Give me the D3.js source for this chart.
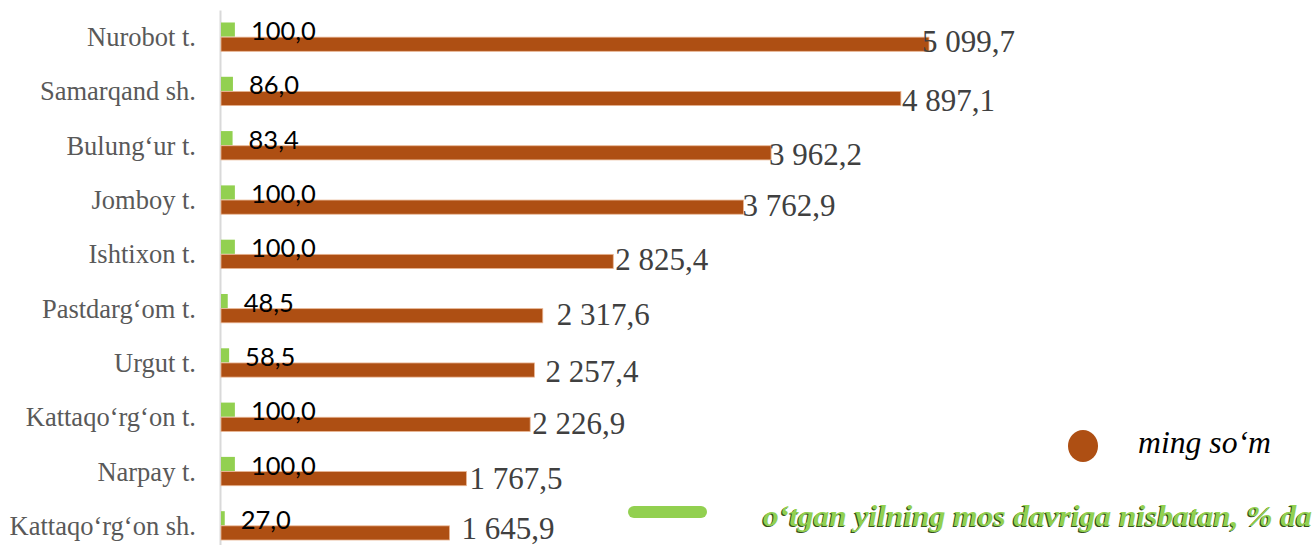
<!DOCTYPE html>
<html>
<head>
<meta charset="utf-8">
<script src="https://cdn.jsdelivr.net/npm/d3@7"></script>
<style>
  html, body { margin: 0; padding: 0; background: #fff; }
  svg { display: block; }
</style>
</head>
<body>
<svg id="chart" width="1315" height="545"></svg>
<script>
// ---- data ----
const categories = ["Nurobot t.", "Samarqand sh.", "Bulung‘ur t.", "Jomboy t.", "Ishtixon t.",
  "Pastdarg‘om t.", "Urgut t.", "Kattaqo‘rg‘on t.", "Narpay t.", "Kattaqo‘rg‘on sh."];
const valuesMingSom = [5099.7, 4897.1, 3962.2, 3762.9, 2825.4, 2317.6, 2257.4, 2226.9, 1767.5, 1645.9];
const valuesPercent = [100.0, 86.0, 83.4, 100.0, 100.0, 48.5, 58.5, 100.0, 100.0, 27.0];
const seriesNames = ["ming so‘m", "o‘tgan yilning mos davriga nisbatan, % da"];

// manual label nudges (Excel labels were dragged by hand) [dx, dy]
const valueLabelNudge = [[-6, 8], [2, 12], [-1, 12], [0, 9], [3, 8.5], [15, 9.5], [12, 12], [3, 9], [4, 10], [13, 6]];

// ---- layout ----
const brown = "#ae4f13", green = "#92d050";
const svg = d3.select("#chart");
const fmt = v => {
  const s = v.toFixed(1).replace(".", ",");
  const [ip, dp] = s.split(",");
  return ip.replace(/\B(?=(\d{3})+(?!\d))/g, " ") + "," + dp;
};

const x = d3.scaleLinear().domain([0, 6000]).range([220, 1053]);
const y = d3.scaleBand().domain(categories).range([10, 553]).paddingInner(0.46).paddingOuter(0.23);
const sub = d3.scaleBand().domain(["pct", "val"]).range([0, y.bandwidth()]);

// category axis
const axis = d3.axisLeft(y).tickSize(0).tickSizeOuter(0).tickPadding(24);
const gAxis = svg.append("g").attr("transform", `translate(${x(0)},0)`).call(axis);
gAxis.select(".domain").attr("stroke", "#d9d9d9").attr("stroke-width", 2);
gAxis.selectAll(".tick text")
  .attr("font-family", "'Liberation Serif', 'Times New Roman', serif")
  .attr("font-size", 26.5)
  .attr("fill", "#595959")
  .attr("dy", 9);

const rows = categories.map((c, i) => ({ c, v: valuesMingSom[i], p: valuesPercent[i], n: valueLabelNudge[i] }));

// green bars (percent)
svg.append("g").selectAll("rect").data(rows).join("rect")
  .attr("x", x(0) + 1)
  .attr("y", d => y(d.c) + sub("pct"))
  .attr("width", d => x(d.p) - x(0))
  .attr("height", sub.bandwidth() - 0.5)
  .attr("fill", green);

// brown bars (ming so'm)
svg.append("g").selectAll("rect").data(rows).join("rect")
  .attr("x", x(0) + 1)
  .attr("y", d => y(d.c) + sub("val"))
  .attr("width", d => x(d.v) - x(0))
  .attr("height", sub.bandwidth() - 0.5)
  .attr("fill", brown)
  .attr("stroke", "#e9b592")
  .attr("stroke-width", 0.8);

// percent labels
svg.append("g").selectAll("text").data(rows).join("text")
  .attr("x", d => x(d.p) + 17)
  .attr("y", d => y(d.c) + y.bandwidth() / 2 + 3)
  .attr("font-family", "Lato, 'Open Sans', sans-serif")
  .attr("font-size", 25.5)
  .attr("fill", "#000")
  .text(d => fmt(d.p));

// value labels
svg.append("g").selectAll("text").data(rows).join("text")
  .attr("x", d => x(d.v) + d.n[0])
  .attr("y", d => y(d.c) + sub("val") + sub.bandwidth() / 2 + d.n[1])
  .attr("font-family", "'Liberation Serif', 'Times New Roman', serif")
  .attr("font-size", 31)
  .attr("fill", "#404040")
  .text(d => fmt(d.v));

// legend
const lg = svg.append("g");
lg.append("ellipse").attr("cx", 1083).attr("cy", 446).attr("rx", 15).attr("ry", 16).attr("fill", brown);
lg.append("text").attr("x", 1138).attr("y", 453)
  .attr("font-family", "'Liberation Serif', 'Times New Roman', serif")
  .attr("font-style", "italic").attr("font-size", 31).attr("fill", "#000")
  .attr("textLength", 133).attr("lengthAdjust", "spacingAndGlyphs")
  .text(seriesNames[0]);

lg.append("line").attr("x1", 634).attr("x2", 701).attr("y1", 512).attr("y2", 512)
  .attr("stroke", green).attr("stroke-width", 12).attr("stroke-linecap", "round");
[["#34501c", 1.2], [green, 0]].forEach(([col, off]) => {
  lg.append("text").attr("x", 763 - off).attr("y", 526 + off)
    .attr("font-family", "'Liberation Serif', 'Times New Roman', serif")
    .attr("font-style", "italic").attr("font-weight", "bold")
    .attr("font-size", 30).attr("fill", col)
    .attr("textLength", 549).attr("lengthAdjust", "spacingAndGlyphs")
    .text(seriesNames[1]);
});
</script>
</body>
</html>
